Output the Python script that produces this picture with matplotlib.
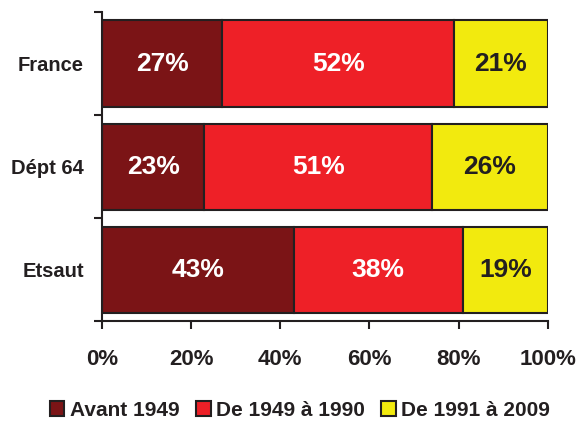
import numpy as np
import matplotlib.pyplot as plt

plt.rcParams['font.family'] = ['Liberation Sans', 'DejaVu Sans']
plt.rcParams['font.weight'] = 'bold'

# Share of dwellings by construction period (%)
places = ["France", "Dépt 64", "Etsaut"]
periods = ["Avant 1949", "De 1949 à 1990", "De 1991 à 2009"]
avant_1949 = [27, 23, 43]
de_1949_1990 = [52, 51, 38]
de_1991_2009 = [21, 26, 19]
xticks = [0, 20, 40, 60, 80, 100]

colors = ["#7b1416", "#ee2027", "#f2ea0e"]
text_colors = ["white", "white", "#231f20"]
dark = "#231f20"

fig = plt.figure(figsize=(5.79, 4.21), dpi=100)
ax = fig.add_axes([0.176, 0.2375, 0.77, 0.734])

y = np.arange(len(places))
left = np.zeros(len(places))
for series, name, col, tcol in zip([avant_1949, de_1949_1990, de_1991_2009],
                                   periods, colors, text_colors):
    vals = np.array(series, dtype=float)
    ax.barh(y, vals, left=left, height=0.835, color=col, edgecolor=dark,
            linewidth=1.5, label=name)
    for yi, l, v in zip(y, left, vals):
        ax.text(l + v / 2, yi, f"{v:.0f}%", ha='center', va='center',
                color=tcol, fontsize=19, fontweight='bold')
    left += vals

ax.set_xlim(0, 100)
ax.set_ylim(len(places) - 0.5, -0.5)

ax.set_xticks(xticks)
ax.set_xticklabels([f"{t}%" for t in xticks], fontsize=16, color=dark)
ax.tick_params(axis='x', direction='out', length=6, width=1.5, color=dark, pad=14)

# boundary ticks on the category axis, labels centred on the bars
ax.set_yticks(np.arange(len(places) + 1) - 0.5)
ax.set_yticklabels([])
ax.set_yticks(y, minor=True)
ax.set_yticklabels(places, minor=True, fontsize=14.5, color=dark)
ax.tick_params(axis='y', which='major', direction='out', length=6, width=1.5, color=dark)
ax.tick_params(axis='y', which='minor', length=0, pad=13)

for s in ['top', 'right']:
    ax.spines[s].set_visible(False)
for s in ['left', 'bottom']:
    ax.spines[s].set_color(dark)
    ax.spines[s].set_linewidth(1.5)

fig.legend(loc='center', bbox_to_anchor=(0.518, 0.025), ncol=3, frameon=False,
           fontsize=15, handlelength=0.7, handleheight=0.7,
           handletextpad=0.25, columnspacing=0.8, labelcolor=dark)

fig.savefig("out.png", dpi=100)
